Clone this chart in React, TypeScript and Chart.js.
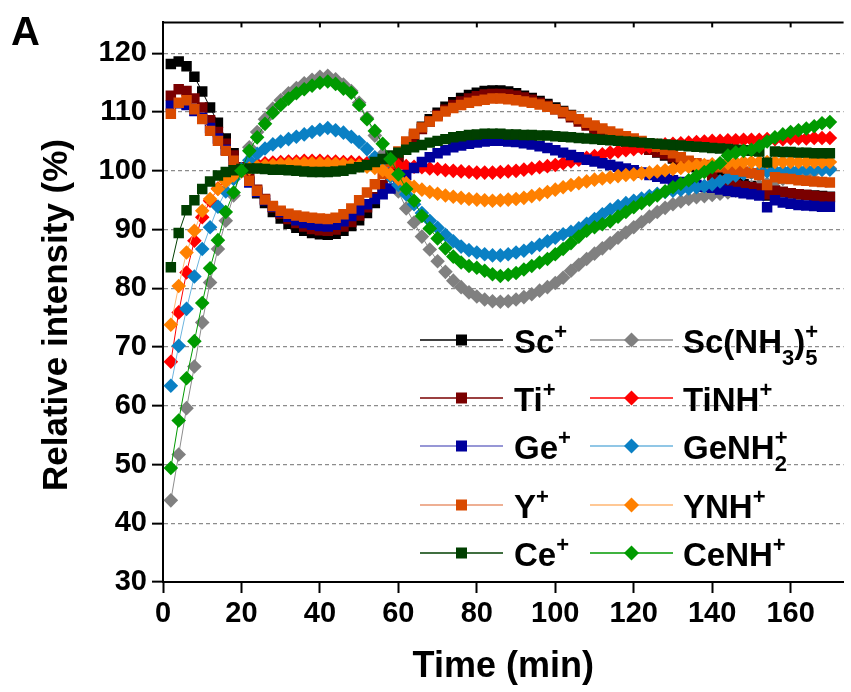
import React, { useEffect, useRef } from 'react';
import { Chart, registerables } from 'chart.js';

Chart.register(...registerables);

const FONT = 'Arial, "Liberation Sans", Helvetica, sans-serif';

// ---- data (time in min, relative intensity in %) ----
const timeMin = [
  2, 4, 6, 8, 10, 12, 14, 16, 18, 20,
  22, 24, 26, 28, 30, 32, 34, 36, 38, 40,
  42, 44, 46, 48, 50, 52, 54, 56, 58, 60,
  62, 64, 66, 68, 70, 72, 74, 76, 78, 80,
  82, 84, 86, 88, 90, 92, 94, 96, 98, 100,
  102, 104, 106, 108, 110, 112, 114, 116, 118, 120,
  122, 124, 126, 128, 130, 132, 134, 136, 138, 140,
  142, 144, 146, 148, 150, 152, 154, 156, 158, 160,
  162, 164, 166, 168, 170,
];

const scIon = [
  118.2, 118.6, 117.8, 116.0, 113.5, 110.8, 108.2, 105.5, 103.0, 100.5,
  98.2, 96.2, 94.5, 93.0, 91.9, 91.0, 90.3, 89.8, 89.4, 89.2,
  89.1, 89.3, 89.8, 90.6, 91.6, 92.8, 94.5, 97.0, 99.8, 102.3,
  104.3, 106.0, 107.5, 108.8, 109.9, 110.9, 111.7, 112.4, 112.9, 113.3,
  113.6, 113.7, 113.7, 113.5, 113.2, 112.8, 112.4, 111.9, 111.4, 110.8,
  110.2, 109.5, 108.8, 108.1, 107.4, 106.8, 106.2, 105.6, 105.1, 104.6,
  104.1, 103.6, 103.1, 102.6, 102.1, 101.6, 101.1, 100.6, 100.1, 99.5,
  99.0, 98.5, 98.1, 97.7, 97.4, 97.1, 95.8, 96.6, 96.4, 96.2,
  96.0, 95.9, 95.8, 95.7, 95.6,
];

const tiIon = [
  112.8, 113.9, 113.6, 112.3, 110.8, 108.6, 106.6, 104.6, 102.6, 100.6,
  98.6, 96.8, 95.2, 93.8, 92.7, 91.8, 91.1, 90.5, 90.1, 89.9,
  89.8, 90.0, 90.5, 91.3, 92.4, 93.8, 95.5, 97.6, 100.0, 102.2,
  104.1, 105.7, 107.1, 108.4, 109.5, 110.4, 111.2, 111.8, 112.3, 112.7,
  113.0, 113.1, 113.1, 113.0, 112.8, 112.5, 112.1, 111.6, 111.1, 110.5,
  109.8, 109.1, 108.4, 107.7, 107.1, 106.5, 105.9, 105.4, 104.9, 104.4,
  104.0, 103.6, 103.2, 102.8, 102.3, 101.9, 101.5, 101.0, 100.2, 99.2,
  98.4, 97.9, 97.6, 97.4, 97.2, 97.0, 96.0, 96.6, 96.4, 96.2,
  96.0, 95.9, 95.7, 95.6, 95.5,
];

const geIon = [
  111.1, 111.5, 111.2, 110.2, 109.0, 107.3, 105.5, 103.6, 101.6, 99.8,
  98.0, 96.4, 95.0, 93.9, 93.0, 92.2, 91.6, 91.1, 90.8, 90.6,
  90.5, 90.8, 91.4, 92.3, 93.3, 94.3, 95.2, 96.0, 97.0, 98.0,
  99.3, 100.5, 101.5, 102.3, 103.0, 103.5, 104.0, 104.3, 104.6, 104.8,
  105.0, 105.1, 105.1, 105.0, 104.9, 104.7, 104.5, 104.2, 103.9, 103.5,
  103.1, 102.7, 102.3, 101.9, 101.6, 101.3, 101.0, 100.7, 100.4, 100.1,
  99.7, 99.3, 99.0, 98.7, 98.4, 98.1, 97.8, 97.6, 97.3, 97.1,
  96.8, 96.6, 96.4, 96.2, 96.0, 95.8, 93.8, 95.0, 94.6, 94.4,
  94.2, 94.1, 94.0, 93.9, 93.9,
];

const yIon = [
  109.7, 111.6, 112.0, 110.5, 108.8, 106.8, 105.1, 103.4, 101.7, 100.0,
  98.3, 96.6, 95.1, 94.0, 93.2, 92.7, 92.4, 92.2, 92.0, 91.9,
  91.8, 92.0, 92.6, 93.6, 95.0, 96.3, 97.7, 99.5, 101.5, 103.3,
  105.0, 106.3, 107.4, 108.4, 109.3, 110.1, 110.7, 111.2, 111.6, 111.9,
  112.1, 112.3, 112.3, 112.2, 112.0, 111.8, 111.6, 111.3, 110.9, 110.5,
  110.0, 109.4, 108.8, 108.2, 107.7, 107.2, 106.7, 106.3, 105.9, 105.5,
  105.1, 104.6, 104.1, 103.6, 103.0, 102.3, 101.7, 101.3, 101.0, 100.8,
  100.6, 100.4, 100.2, 99.9, 99.6, 99.3, 97.6, 98.9, 98.7, 98.6,
  98.4, 98.3, 98.2, 98.1, 98.0,
];

const ceIon = [
  83.6, 89.4, 93.3, 95.0, 96.9, 98.2, 99.2, 99.8, 100.1, 100.3,
  100.4, 100.4, 100.3, 100.2, 100.2, 100.1, 100.0, 99.9, 99.8, 99.8,
  99.8, 99.9, 100.0, 100.3, 100.6, 101.0, 101.5, 102.0, 102.6, 103.1,
  103.6, 104.0, 104.4, 104.8, 105.1, 105.4, 105.7, 105.9, 106.1, 106.2,
  106.3, 106.3, 106.3, 106.2, 106.2, 106.1, 106.1, 106.0, 106.0, 105.9,
  105.8, 105.7, 105.6, 105.5, 105.4, 105.3, 105.2, 105.1, 105.0, 104.9,
  104.8, 104.7, 104.6, 104.5, 104.4, 104.3, 104.2, 104.1, 104.0, 103.9,
  103.8, 103.7, 103.6, 103.5, 103.4, 103.3, 101.4, 103.3, 103.2, 103.2,
  103.1, 103.1, 103.0, 103.0, 103.0,
];

const scNH35 = [
  43.9, 51.7, 59.6, 66.7, 74.2, 81.0, 86.7, 91.5, 95.8, 100.3,
  104.0, 106.6, 108.8, 110.6, 112.0, 113.2, 114.1, 114.9, 115.5, 116.0,
  116.2, 115.6, 114.7, 113.6, 111.6, 109.0, 106.0, 102.8, 99.6, 96.5,
  93.6, 91.2, 88.8, 86.6, 84.6, 82.8, 81.3, 80.2, 79.3, 78.6,
  78.1, 77.8, 77.7, 77.8, 78.1, 78.5, 79.0, 79.6, 80.2, 80.9,
  81.8, 83.0, 84.0, 85.0, 85.9, 86.8, 87.7, 88.6, 89.5, 90.4,
  91.3, 92.2, 93.0, 93.7, 94.3, 94.8, 95.2, 95.5, 95.7, 95.9,
  96.1, 96.3, 96.6, 96.9, 97.2, 97.5, 97.8, 98.2, 98.6, 99.0,
  99.3, 99.6, 99.9, 100.2, 100.4,
];

const tiNH = [
  67.5, 75.9, 82.7, 88.1, 92.1, 94.9, 97.0, 98.5, 99.5, 100.2,
  100.8, 101.1, 101.3, 101.4, 101.5, 101.6, 101.6, 101.7, 101.7, 101.7,
  101.6, 101.6, 101.5, 101.5, 101.4, 101.3, 101.2, 101.1, 101.0, 100.9,
  100.8, 100.7, 100.6, 100.4, 100.3, 100.1, 100.0, 99.9, 99.8, 99.7,
  99.7, 99.7, 99.8, 99.9, 100.0, 100.2, 100.4, 100.6, 100.8, 101.0,
  101.3, 101.6, 101.9, 102.2, 102.5, 102.8, 103.1, 103.3, 103.5, 103.7,
  103.9, 104.1, 104.3, 104.5, 104.6, 104.7, 104.8, 104.9, 105.0, 105.1,
  105.1, 105.2, 105.2, 105.3, 105.3, 105.3, 105.4, 105.4, 105.4, 105.5,
  105.5, 105.5, 105.6, 105.6, 105.6,
];

const geNH2 = [
  63.4, 70.2, 76.5, 82.0, 86.7, 90.4, 93.9, 96.5, 98.6, 100.3,
  101.8, 102.9, 103.8, 104.5, 105.0, 105.4, 105.8, 106.2, 106.6, 107.0,
  107.3, 106.9, 106.5, 105.8, 104.9, 103.7, 102.3, 100.7, 99.0, 97.6,
  96.0, 94.3, 92.8, 91.5, 90.3, 89.1, 88.0, 87.1, 86.5, 86.1,
  85.8, 85.6, 85.6, 85.8, 86.1, 86.4, 86.9, 87.4, 88.0, 88.6,
  89.2, 89.6, 90.2, 91.0, 91.8, 92.6, 93.4, 94.0, 94.5, 94.9,
  95.3, 95.7, 96.1, 96.4, 96.6, 96.8, 97.0, 97.2, 97.4, 97.7,
  98.2, 98.8, 99.2, 99.5, 99.7, 99.8, 99.9, 100.0, 100.0, 100.1,
  100.1, 100.2, 100.2, 100.2, 100.2,
];

const yNH = [
  73.8, 80.4, 86.1, 89.8, 93.2, 95.2, 96.9, 98.2, 99.2, 99.9,
  100.4, 100.7, 100.9, 101.0, 101.1, 101.2, 101.2, 101.3, 101.3, 101.3,
  101.2, 101.2, 101.1, 101.0, 100.9, 100.7, 100.5, 100.1, 99.4, 98.6,
  97.9, 97.3, 96.8, 96.4, 96.1, 95.8, 95.6, 95.4, 95.2, 95.1,
  95.0, 94.9, 95.0, 95.1, 95.2, 95.4, 95.7, 96.0, 96.4, 96.8,
  97.2, 97.6, 97.9, 98.2, 98.5, 98.7, 98.9, 99.1, 99.3, 99.4,
  99.6, 99.7, 99.9, 100.1, 100.3, 100.5, 100.7, 100.9, 101.0, 101.1,
  101.2, 101.3, 101.4, 101.5, 101.5, 101.5, 101.5, 101.5, 101.5, 101.5,
  101.5, 101.5, 101.5, 101.5, 101.5,
];

const ceNH = [
  49.4, 57.5, 64.7, 71.0, 77.5, 83.4, 88.2, 93.0, 96.3, 100.0,
  103.4, 105.7, 108.0, 109.9, 111.2, 112.3, 113.2, 113.9, 114.5, 115.0,
  115.2, 114.8, 114.0, 113.3, 111.2, 108.8, 106.8, 104.6, 102.0, 99.4,
  96.9, 94.9, 92.3, 90.2, 88.5, 86.8, 85.4, 84.4, 83.8, 83.5,
  83.0, 82.4, 82.1, 82.3, 82.6, 83.2, 83.8, 84.4, 85.0, 85.8,
  86.7, 87.7, 88.8, 89.8, 90.4, 90.9, 91.4, 92.2, 93.0, 93.8,
  94.5, 95.1, 95.8, 96.5, 97.2, 97.8, 98.4, 99.1, 99.8, 100.6,
  101.3, 102.6, 103.1, 103.4, 103.6, 104.2, 105.0, 105.7, 106.2, 106.6,
  106.9, 107.2, 107.6, 108.1, 108.3,
];

const xTickValues = [0, 20, 40, 60, 80, 100, 120, 140, 160];
const yTickValues = [30, 40, 50, 60, 70, 80, 90, 100, 110, 120];

// legend label pieces: [text, mode] mode 0 normal, 1 superscript, 2 subscript, 3 subscript stacked under next superscript
type Seg = [string, number];

interface Series {
  label: string;
  values: number[];
  color: string;
  lineColor: string;
  marker: 'rect' | 'rectRot';
  legend: Seg[];
  col: number;
  row: number;
  order: number;
}

const series: Series[] = [
  { label: 'Sc+', values: scIon, color: '#000000', lineColor: '#000000', marker: 'rect', legend: [['Sc', 0], ['+', 1]], col: 0, row: 0, order: 9 },
  { label: 'Sc(NH3)5+', values: scNH35, color: '#808080', lineColor: '#8c8c8c', marker: 'rectRot', legend: [['Sc(NH', 0], ['3', 2], [')', 0], ['5', 3], ['+', 1]], col: 1, row: 0, order: 8 },
  { label: 'Ti+', values: tiIon, color: '#7a0000', lineColor: '#7a0000', marker: 'rect', legend: [['Ti', 0], ['+', 1]], col: 0, row: 1, order: 7 },
  { label: 'TiNH+', values: tiNH, color: '#ff0000', lineColor: '#ff0000', marker: 'rectRot', legend: [['TiNH', 0], ['+', 1]], col: 1, row: 1, order: 6 },
  { label: 'Ge+', values: geIon, color: '#00009c', lineColor: '#7474c8', marker: 'rect', legend: [['Ge', 0], ['+', 1]], col: 0, row: 2, order: 5 },
  { label: 'GeNH2+', values: geNH2, color: '#0a80c4', lineColor: '#6cb4de', marker: 'rectRot', legend: [['GeNH', 0], ['2', 3], ['+', 1]], col: 1, row: 2, order: 4 },
  { label: 'Y+', values: yIon, color: '#d94a00', lineColor: '#e8956f', marker: 'rect', legend: [['Y', 0], ['+', 1]], col: 0, row: 3, order: 3 },
  { label: 'YNH+', values: yNH, color: '#ff8000', lineColor: '#ffb672', marker: 'rectRot', legend: [['YNH', 0], ['+', 1]], col: 1, row: 3, order: 2 },
  { label: 'Ce+', values: ceIon, color: '#003f00', lineColor: '#003f00', marker: 'rect', legend: [['Ce', 0], ['+', 1]], col: 0, row: 4, order: 1 },
  { label: 'CeNH+', values: ceNH, color: '#009a00', lineColor: '#009a00', marker: 'rectRot', legend: [['CeNH', 0], ['+', 1]], col: 1, row: 4, order: 0 },
];

const legendRowsY = [340, 398, 446, 505, 553];
const legendColLine = [420, 590];
const legendColText = [514, 683];

const decorPlugin = {
  id: 'decor',
  afterDraw(chart: any) {
    const ctx: CanvasRenderingContext2D = chart.ctx;
    const { left, right, top } = chart.chartArea;
    const xs = chart.scales.x;
    ctx.save();
    // top frame
    ctx.strokeStyle = '#000';
    ctx.lineWidth = 2;
    ctx.beginPath();
    ctx.moveTo(left - 1, top);
    ctx.lineTo(right, top);
    ctx.stroke();
    for (const v of xTickValues) {
      const px = xs.getPixelForValue(v);
      ctx.beginPath();
      ctx.moveTo(px, top);
      ctx.lineTo(px, top + 5);
      ctx.stroke();
    }
    // y title
    ctx.save();
    ctx.translate(67, 315);
    ctx.rotate(-Math.PI / 2);
    ctx.font = `bold 35px ${FONT}`;
    ctx.fillStyle = '#000';
    ctx.textAlign = 'center';
    ctx.textBaseline = 'alphabetic';
    ctx.fillText('Relative intensity (%)', 0, 0);
    ctx.restore();
    // panel letter
    ctx.font = `bold 40px ${FONT}`;
    ctx.fillStyle = '#000';
    ctx.textAlign = 'left';
    ctx.textBaseline = 'alphabetic';
    ctx.fillText('A', 11, 45);
    // legend
    for (const s of series) {
      const y = legendRowsY[s.row];
      const lx0 = legendColLine[s.col];
      const lx1 = lx0 + 83;
      const cx = (lx0 + lx1) / 2;
      ctx.strokeStyle = s.lineColor;
      ctx.lineWidth = 1.5;
      ctx.beginPath();
      ctx.moveTo(lx0, y);
      ctx.lineTo(lx1, y);
      ctx.stroke();
      ctx.fillStyle = s.color;
      if (s.marker === 'rect') {
        ctx.fillRect(cx - 5.5, y - 5.5, 11, 11);
      } else {
        ctx.beginPath();
        ctx.moveTo(cx - 7.5, y);
        ctx.lineTo(cx, y - 7.5);
        ctx.lineTo(cx + 7.5, y);
        ctx.lineTo(cx, y + 7.5);
        ctx.closePath();
        ctx.fill();
      }
      let x = legendColText[s.col];
      const base = y + 12.5;
      let pend = 0;
      ctx.fillStyle = '#000';
      for (const [t, m] of s.legend) {
        if (m === 0) {
          ctx.font = `bold 33px ${FONT}`;
          ctx.fillText(t, x, base);
          x += ctx.measureText(t).width;
        } else if (m === 1) {
          ctx.font = `bold 22px ${FONT}`;
          ctx.fillText(t, x, base - 14);
          x += Math.max(ctx.measureText(t).width, pend);
          pend = 0;
        } else if (m === 2) {
          ctx.font = `bold 22px ${FONT}`;
          ctx.fillText(t, x, base + 12);
          x += ctx.measureText(t).width;
        } else {
          ctx.font = `bold 22px ${FONT}`;
          ctx.fillText(t, x, base + 12);
          pend = ctx.measureText(t).width;
        }
      }
    }
    ctx.restore();
  },
};

export default function App() {
  const ref = useRef<HTMLCanvasElement>(null);
  useEffect(() => {
    if (!ref.current) return;
    const datasets = series.map((s) => ({
      label: s.label,
      data: timeMin.map((t, i) => ({ x: t, y: s.values[i] })),
      borderColor: s.lineColor,
      backgroundColor: s.color,
      borderWidth: 1,
      pointStyle: s.marker,
      pointRadius: s.marker === 'rect' ? 7.4 : 7.3,
      pointBackgroundColor: s.color,
      pointBorderColor: s.color,
      pointBorderWidth: 0,
      order: s.order,
      tension: 0,
    }));
    const chart = new Chart(ref.current, {
      type: 'line',
      data: { datasets },
      plugins: [decorPlugin],
      options: {
        animation: false,
        responsive: false,
        devicePixelRatio: 1,
        layout: { padding: { top: 22, right: 0, left: 0, bottom: 0 } },
        plugins: { legend: { display: false }, tooltip: { enabled: false }, title: { display: false } },
        scales: {
          x: {
            type: 'linear',
            min: 0,
            max: 173.5,
            afterBuildTicks: (s: any) => {
              s.ticks = xTickValues.map((v) => ({ value: v }));
            },
            afterFit: (s: any) => {
              s.height = 110;
            },
            ticks: {
              font: { family: FONT, size: 29, weight: 'bold' },
              color: '#000',
              padding: 4,
              maxRotation: 0,
              autoSkip: false,
            },
            grid: {
              display: true,
              drawOnChartArea: false,
              drawTicks: true,
              tickLength: 11,
              tickWidth: 2,
              tickColor: '#000',
            },
            border: { display: true, color: '#000', width: 2 },
            title: {
              display: true,
              text: 'Time (min)',
              font: { family: FONT, size: 36, weight: 'bold' },
              color: '#000',
              padding: { top: 0, bottom: 3 },
            },
          },
          y: {
            type: 'linear',
            min: 30,
            max: 125.27,
            afterBuildTicks: (s: any) => {
              s.ticks = yTickValues.map((v) => ({ value: v }));
            },
            afterFit: (s: any) => {
              s.width = 163;
            },
            ticks: {
              font: { family: FONT, size: 29, weight: 'bold' },
              color: '#000',
              padding: 5,
              autoSkip: false,
            },
            grid: {
              display: true,
              drawOnChartArea: true,
              color: '#8c8c8c',
              lineWidth: 1.3,
              drawTicks: true,
              tickLength: 11,
              tickWidth: 2,
              tickColor: '#000',
            },
            border: { display: true, color: '#000', width: 2, dash: [4, 3] },
          },
        },
      },
    } as any);
    return () => chart.destroy();
  }, []);
  return (
    <div style={{ position: 'absolute', left: 0, top: 0, width: 851, height: 692, background: '#fff' }}>
      <canvas ref={ref} width={851} height={692} style={{ display: 'block' }} />
    </div>
  );
}
